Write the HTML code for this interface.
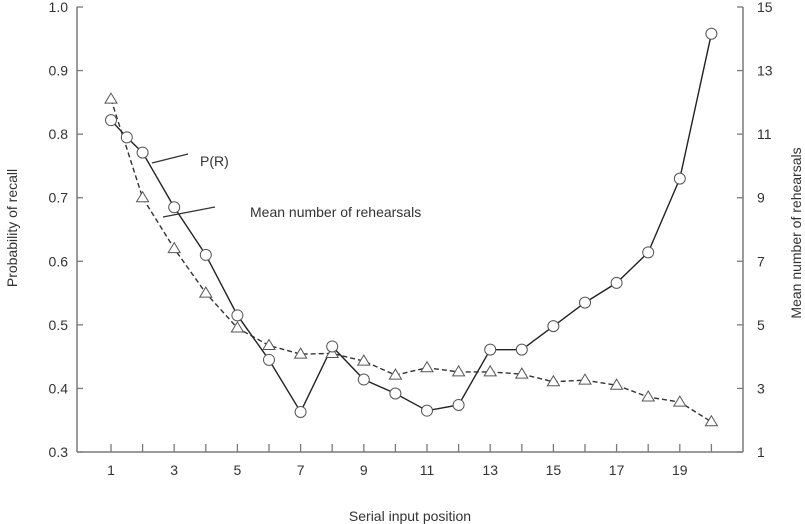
<!DOCTYPE html>
<html><head><meta charset="utf-8"><style>
html,body{margin:0;padding:0;background:#fff;}
svg{display:block;font-family:"Liberation Sans",Arial,sans-serif;}
</style></head><body>
<svg id="chart" width="805" height="524" viewBox="0 0 805 524" xmlns="http://www.w3.org/2000/svg">
<g id="axes"></g>
<g id="series"></g>
<text transform="translate(17,228) rotate(-90)" text-anchor="middle" font-size="14" fill="#333">Probability of recall</text>
<text transform="translate(801,233) rotate(-90)" text-anchor="middle" font-size="14" fill="#333">Mean number of rehearsals</text>
<text x="410" y="521" text-anchor="middle" font-size="14" fill="#333">Serial input position</text>
<g>
<line x1="152" y1="163" x2="188" y2="154" stroke="#333" stroke-width="1.3"/>
<text x="200" y="166" font-size="14" fill="#333">P(R)</text>
</g>
<g>
<line x1="163" y1="217" x2="215" y2="207" stroke="#333" stroke-width="1.3"/>
<text x="250" y="217" font-size="14" fill="#333">Mean number of rehearsals</text>
</g>
</svg>
<script>
const recallPositions = [1,1.5,2,3,4,5,6,7,8,9,10,11,12,13,14,15,16,17,18,19,20];
const recallValues = [0.822,0.795,0.771,0.685,0.610,0.515,0.445,0.363,0.466,0.414,0.392,0.365,0.374,0.461,0.461,0.498,0.535,0.566,0.614,0.730,0.958];
const rehearsalPositions = [1,2,3,4,5,6,7,8,9,10,11,12,13,14,15,16,17,18,19,20];
const rehearsalValues = [12.1,9.0,7.4,6.0,4.9,4.35,4.08,4.1,3.86,3.42,3.65,3.52,3.52,3.45,3.21,3.26,3.1,2.73,2.57,1.95];
const leftTicks = [0.3,0.4,0.5,0.6,0.7,0.8,0.9,1.0];
const leftTickLabels = ["0.3","0.4","0.5","0.6","0.7","0.8","0.9","1.0"];
const rightTicks = [1,3,5,7,9,11,13,15];
const xTicks = [1,2,3,4,5,6,7,8,9,10,11,12,13,14,15,16,17,18,19,20];
const xTickLabels = ["1","3","5","7","9","11","13","15","17","19"];

const NS="http://www.w3.org/2000/svg";
const X0=77,X1=743,Y0=452,Y1=7;
function xs(p){return 111+(p-1)*31.6;}
function yl(v){return Y0-(v-0.3)/0.7*(Y0-Y1);}
function yr(v){return Y0-(v-1)/14*(Y0-Y1);}
function mk(tag,attrs,parent){const e=document.createElementNS(NS,tag);for(const k in attrs)e.setAttribute(k,attrs[k]);parent.appendChild(e);return e;}
const axes=document.getElementById('axes'), series=document.getElementById('series');
const ac="#7a7a7a";
let e=mk('line',{x1:X0,y1:Y1,x2:X0,y2:Y0,stroke:ac,'stroke-width':1.5},axes);


e=mk('line',{x1:X1,y1:Y1,x2:X1,y2:Y0,stroke:ac,'stroke-width':1.5},axes);


e=mk('line',{x1:X0,y1:Y0,x2:X1,y2:Y0,stroke:ac,'stroke-width':1.5},axes);


leftTicks.forEach((t,i)=>{
  const y=yl(t);
  mk('line',{x1:X0,y1:y,x2:X0+6,y2:y,stroke:ac,'stroke-width':1.3},axes);
  const tx=mk('text',{x:68,y:y+5,'text-anchor':'end','font-size':14,fill:'#333'},axes);
  tx.textContent=leftTickLabels[i];
  
  
});
rightTicks.forEach(t=>{
  const y=yr(t);
  mk('line',{x1:X1-6,y1:y,x2:X1,y2:y,stroke:ac,'stroke-width':1.3},axes);
  const tx=mk('text',{x:757,y:y+5,'font-size':14,fill:'#333'},axes);
  tx.textContent=String(t);
  
  
});
xTicks.forEach(t=>{
  const x=xs(t);
  mk('line',{x1:x,y1:Y0-8,x2:x,y2:Y0,stroke:ac,'stroke-width':1.3},axes);
});
xTickLabels.forEach(l=>{
  const tx=mk('text',{x:xs(+l),y:475,'text-anchor':'middle','font-size':14,fill:'#333'},axes);
  tx.textContent=l;
  
  
});
// rehearsal dashed line
let d=rehearsalPositions.map((p,i)=>(i?'L':'M')+xs(p)+' '+yr(rehearsalValues[i])).join(' ');
e=mk('path',{d:d,fill:'none',stroke:'#333','stroke-width':1.4,'stroke-dasharray':'5,3'},series);


// recall solid line
d=recallPositions.map((p,i)=>(i?'L':'M')+xs(p)+' '+yl(recallValues[i])).join(' ');
e=mk('path',{d:d,fill:'none',stroke:'#222','stroke-width':1.4},series);


rehearsalPositions.forEach((p,i)=>{
  const x=xs(p),y=yr(rehearsalValues[i]);
  const t=mk('polygon',{points:`${x},${y-6} ${x-6},${y+4} ${x+6},${y+4}`,fill:'#fff',stroke:'#555','stroke-width':1},series);
  
  
});
recallPositions.forEach((p,i)=>{
  const c=mk('circle',{cx:xs(p),cy:yl(recallValues[i]),r:5.5,fill:'#fff',stroke:'#555','stroke-width':1},series);
  
  
});
</script>
</body></html>
